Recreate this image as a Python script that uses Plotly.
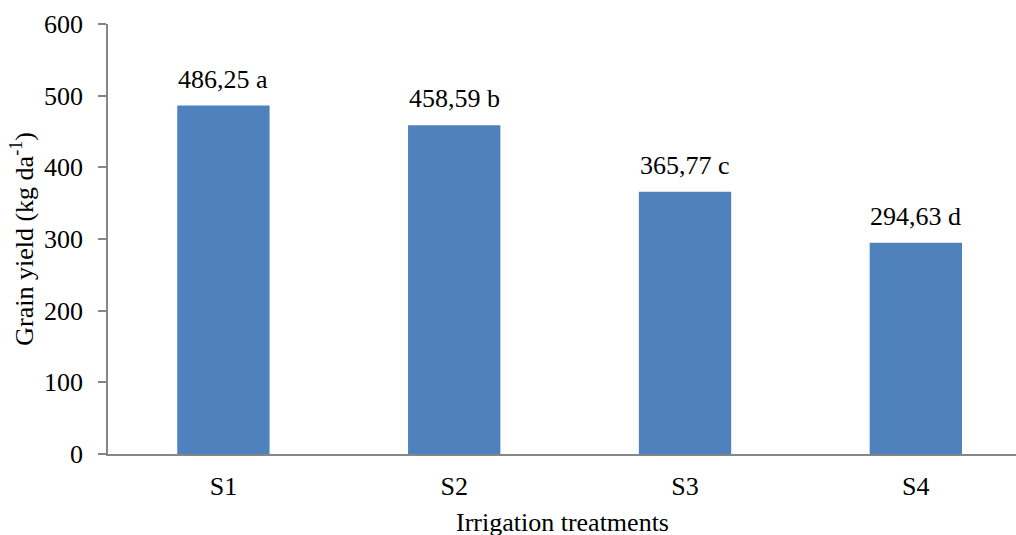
import plotly.graph_objects as go

categories = ["S1", "S2", "S3", "S4"]
values = [486.25, 458.59, 365.77, 294.63]
letters = ["a", "b", "c", "d"]
yticks = [0, 100, 200, 300, 400, 500, 600]

FONT = "Liberation Serif"
AXIS = "#868686"
FS = 26

fig = go.Figure()
fig.add_trace(go.Bar(
    x=categories, y=values, width=0.4,
    marker=dict(color="#4F81BD", line=dict(width=0)),
    hoverinfo="skip",
))

for c, v, l in zip(categories, values, letters):
    fig.add_annotation(
        x=c, y=v, text=f"{v:.2f}".replace(".", ",") + " " + l,
        showarrow=False, yanchor="bottom", yshift=10,
        font=dict(family=FONT, size=FS, color="black"),
    )

fig.add_annotation(
    xref="paper", yref="paper", x=-0.095, y=0.5,
    xanchor="center", yanchor="middle",
    text="Grain yield (kg da<sup>-1</sup>)", textangle=-90,
    showarrow=False, font=dict(family=FONT, size=FS, color="black"),
)
fig.add_annotation(
    xref="paper", yref="paper", x=0.5, y=-0.16, yanchor="middle",
    xanchor="center",
    text="Irrigation treatments",
    showarrow=False, font=dict(family=FONT, size=FS, color="black"),
)

fig.update_layout(
    width=1016, height=535,
    margin=dict(l=108, r=0, t=24, b=81),
    paper_bgcolor="white", plot_bgcolor="white",
    showlegend=False,
    font=dict(family=FONT, size=FS, color="black"),
    bargap=0.6,
)
fig.update_xaxes(
    range=[-0.5, 3.434], showgrid=False, showline=True, linecolor=AXIS,
    linewidth=1.5, ticks="", ticklabelstandoff=8,
    tickfont=dict(family=FONT, size=FS, color="black"),
)
fig.update_yaxes(
    range=[0, 600], tickvals=yticks, showgrid=False, zeroline=False,
    showline=True, linecolor=AXIS, linewidth=1.5, ticks="outside",
    ticklen=8, tickcolor=AXIS, tickwidth=1.5, ticklabelstandoff=10,
    tickfont=dict(family=FONT, size=FS, color="black"),
)

fig.write_html(
    "out.html",
    config={"displayModeBar": False},
    post_script="document.body.style.margin='0';document.body.style.overflow='hidden';",
)
